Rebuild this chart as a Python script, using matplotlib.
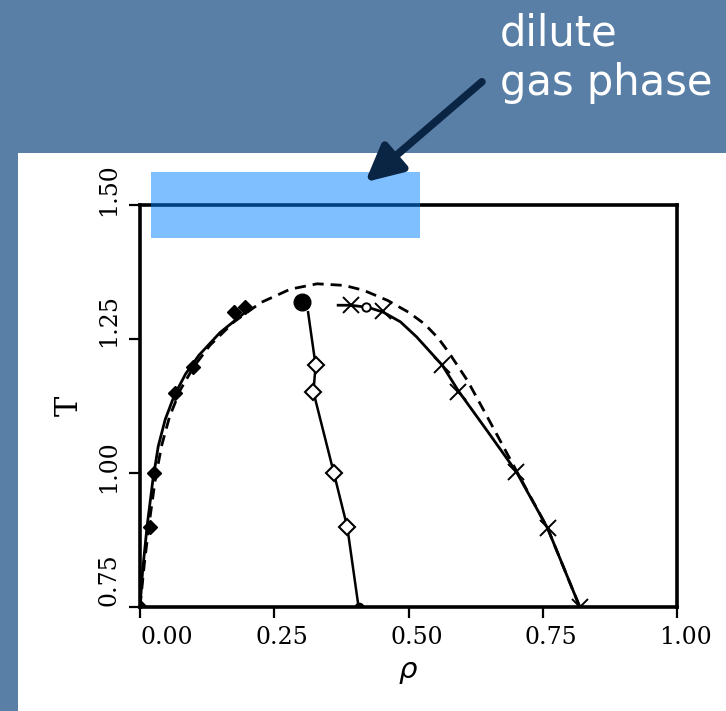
import matplotlib
matplotlib.use("Agg")
import matplotlib.pyplot as plt
import matplotlib.patches as patches
from matplotlib.transforms import ScaledTranslation

# coexistence data
gas_rho = [0.0, 0.019, 0.026, 0.065, 0.099, 0.175, 0.195]
gas_T = [0.75, 0.899, 1.0, 1.149, 1.198, 1.30, 1.31]
gas_line_rho = [0.0, 0.005, 0.013, 0.024, 0.034, 0.047, 0.064, 0.085, 0.110, 0.149, 0.196]
gas_line_T = [0.75, 0.819, 0.899, 0.987, 1.050, 1.100, 1.145, 1.185, 1.220, 1.262, 1.300]

mid_rho = [0.313, 0.327, 0.323, 0.361, 0.386, 0.407]
mid_T = [1.30, 1.201, 1.151, 1.0, 0.899, 0.75]
crit_rho, crit_T = 0.302, 1.319

liq_rho = [0.392, 0.453, 0.563, 0.593, 0.701, 0.759, 0.819]
liq_T = [1.313, 1.302, 1.201, 1.151, 1.002, 0.897, 0.75]
liq_open_rho, liq_open_T = 0.420, 1.309
liq_line_rho = [0.369, 0.392, 0.425, 0.453, 0.485, 0.515, 0.563, 0.593, 0.647, 0.701, 0.759, 0.819]
liq_line_T = [1.313, 1.313, 1.309, 1.300, 1.282, 1.254, 1.201, 1.153, 1.078, 1.002, 0.897, 0.75]

dash_rho = [0.0, 0.008, 0.017, 0.028, 0.040, 0.055, 0.075, 0.100, 0.130, 0.175, 0.225, 0.280,
            0.330, 0.380, 0.416, 0.461, 0.500, 0.530, 0.555, 0.575, 0.610, 0.645, 0.701, 0.759, 0.819]
dash_T = [0.75, 0.830, 0.905, 0.985, 1.050, 1.105, 1.155, 1.198, 1.238, 1.282, 1.318, 1.343,
          1.353, 1.350, 1.341, 1.322, 1.300, 1.278, 1.252, 1.225, 1.172, 1.108, 1.004, 0.897, 0.75]

x_ticks = [0.0, 0.25, 0.5, 0.75, 1.0]
y_ticks = [0.75, 1.0, 1.25, 1.5]

fig = plt.figure(figsize=(7.26, 7.11), dpi=100)
fig.patch.set_facecolor("#5a7fa7")
fig.add_artist(patches.Rectangle((18 / 726, 0), 1, 1 - 153 / 711, transform=fig.transFigure,
                                 facecolor="white", edgecolor="none", zorder=0))

ax = fig.add_axes([140 / 726, 104 / 711, 537 / 726, 402 / 711])
ax.set_xlim(0, 1)
ax.set_ylim(0.75, 1.5)

ax.plot(dash_rho, dash_T, "k--", lw=2.0, dashes=(4, 2.5))
ax.plot(gas_line_rho, gas_line_T, "k-", lw=2.0)
ax.plot(gas_rho, gas_T, "kD", ms=7, ls="none")
ax.plot(mid_rho, mid_T, "k-", lw=1.8)
ax.plot(mid_rho[1:-1], mid_T[1:-1], "D", ms=8, mfc="white", mec="k", mew=1.5, ls="none")
ax.plot([mid_rho[-1]], [mid_T[-1]], "ko", ms=6)
ax.plot([gas_rho[0]], [gas_T[0]], "ko", ms=6)
ax.plot([crit_rho], [crit_T], "ko", ms=12)
ax.plot(liq_line_rho, liq_line_T, "k-", lw=2.0)
ax.plot(liq_rho, liq_T, "kx", ms=11, mew=1.4, ls="none")
ax.plot([liq_open_rho], [liq_open_T], "o", ms=6, mfc="white", mec="k", mew=1.4)

for s in ax.spines.values():
    s.set_linewidth(2.6)
ax.set_xticks(x_ticks)
ax.set_yticks(y_ticks)
ax.set_xticklabels([f"{v:.2f}" for v in x_ticks], family="DejaVu Serif", fontsize=17)
ax.set_yticklabels([f"{v:.2f}" for v in y_ticks], family="DejaVu Serif", fontsize=17,
                   rotation=90, va="center")
ax.tick_params(direction="out", length=8, width=1.6, pad=6)

# scanned labels sit a bit off their ticks
x_shift = [27, 8, 8, 8, 8]
y_shift = [27, 6, 18, 15]
for lab, dx in zip(ax.get_xticklabels(), x_shift):
    lab.set_transform(lab.get_transform() + ScaledTranslation(dx / 100, 0, fig.dpi_scale_trans))
for lab, dy in zip(ax.get_yticklabels(), y_shift):
    lab.set_transform(lab.get_transform() + ScaledTranslation(0, dy / 100, fig.dpi_scale_trans))

ax.set_xlabel(r"$\rho$", fontsize=21, labelpad=6)
ax.set_ylabel("T", family="DejaVu Serif", fontsize=22, labelpad=9)

# highlight of the dilute gas region
ax.add_patch(patches.Rectangle((0.02, 1.438), 0.502, 0.124, facecolor="#0080ff", alpha=0.5,
                               edgecolor="none", clip_on=False, zorder=5))

fig.text(500 / 726, 1 - 12 / 711, "dilute\ngas phase", color="white", fontsize=30,
         ha="left", va="top", family="DejaVu Sans", linespacing=1.25)
fig.add_artist(patches.FancyArrowPatch((484 / 726, 1 - 80 / 711), (363 / 726, 1 - 184 / 711),
                                       transform=fig.transFigure,
                                       arrowstyle="-|>,head_length=22,head_width=11",
                                       color="#0a2444", lw=5.5, mutation_scale=1))

fig.savefig("out.png", dpi=100, facecolor=fig.get_facecolor())
